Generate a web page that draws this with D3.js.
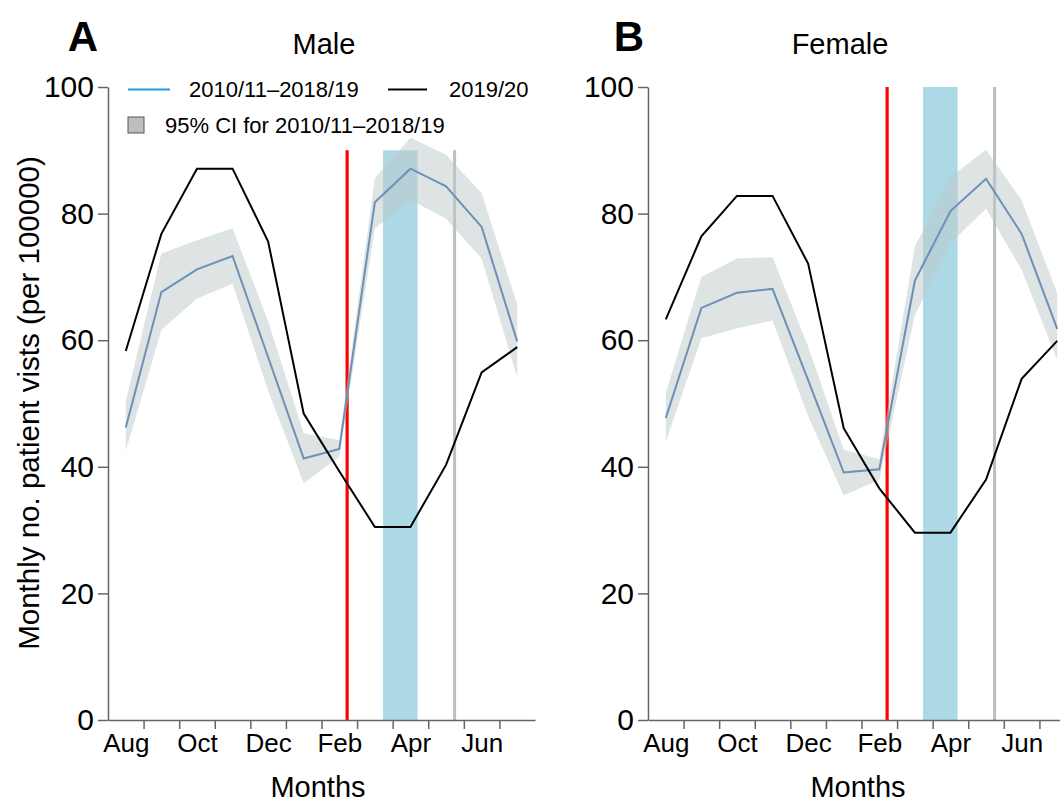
<!DOCTYPE html>
<html>
<head>
<meta charset="utf-8">
<script src="https://cdn.jsdelivr.net/npm/d3@7"></script>
<style>
  body { margin: 0; background: #fff; }
  svg { font-family: "Liberation Sans", Arial, Helvetica, sans-serif; }
</style>
</head>
<body>
<div id="main-container"></div>
<script>
// DATA
const months = ["Aug", "Sep", "Oct", "Nov", "Dec", "Jan", "Feb", "Mar", "Apr", "May", "Jun", "Jul"];
const yTicks = [0, 20, 40, 60, 80, 100];

const maleMean  = [46.2, 67.6, 71.2, 73.3, 57.3, 41.3, 42.8, 81.8, 87.1, 84.3, 77.9, 59.8];
const maleLower = [42.5, 61.6, 66.6, 68.9, 52.0, 37.4, 41.6, 77.7, 82.2, 79.2, 72.9, 54.2];
const maleUpper = [50.4, 73.7, 75.8, 77.7, 63.0, 45.3, 44.2, 85.6, 92.0, 89.3, 83.2, 65.6];
const male2019  = [58.3, 76.8, 87.1, 87.1, 75.6, 48.4, 39.3, 30.5, 30.5, 40.3, 54.9, 58.9];

const femaleMean  = [47.7, 65.1, 67.5, 68.1, 53.7, 39.1, 39.6, 69.4, 80.4, 85.5, 76.8, 61.8];
const femaleLower = [44.0, 60.3, 61.9, 63.1, 48.0, 35.5, 37.9, 64.0, 75.3, 80.8, 71.1, 56.9];
const femaleUpper = [51.7, 70.0, 72.9, 73.1, 59.0, 42.7, 41.2, 74.8, 85.8, 90.1, 82.1, 67.4];
const female2019  = [63.3, 76.4, 82.8, 82.8, 72.1, 46.1, 36.6, 29.6, 29.6, 38.0, 53.9, 59.9];

// event markers, in month units (1 = Aug)
const redLineAt = 7.22;
const shadeSpan = [8.23, 9.2];
const grayLineAt = 10.24;

// CONSTANTS
const width = 427, height = 633;

const svg = d3.select("#main-container")
    .append("svg")
        .attr("width", 1060)
        .attr("height", 804);

function drawPanel(cfg) {
    const g = svg.append("g")
        .attr("transform", `translate(${cfg.left}, 87)`);

    const x = d3.scaleLinear().domain([0.5, 12.5]).range([0, width]);
    const y = d3.scaleLinear().domain([0, 100]).range([height, 0]);

    // shaded period + event lines
    g.append("rect")
        .attr("x", x(shadeSpan[0]))
        .attr("y", y(cfg.markTop))
        .attr("width", x(shadeSpan[1]) - x(shadeSpan[0]))
        .attr("height", y(0) - y(cfg.markTop))
        .style("fill", "#add8e6");

    g.append("line")
        .attr("x1", x(redLineAt)).attr("x2", x(redLineAt))
        .attr("y1", y(0)).attr("y2", y(cfg.markTop))
        .style("stroke", "#ff0000").style("stroke-width", 3.2);

    g.append("line")
        .attr("x1", x(grayLineAt)).attr("x2", x(grayLineAt))
        .attr("y1", y(0)).attr("y2", y(cfg.markTop))
        .style("stroke", "#bebebe").style("stroke-width", 3);

    // CI band
    const area = d3.area()
        .x((d, i) => x(i + 1))
        .y0((d, i) => y(cfg.lower[i]))
        .y1((d, i) => y(cfg.upper[i]));
    g.append("path")
        .datum(cfg.mean)
        .attr("d", area)
        .style("fill", "#bdc7c7")
        .style("opacity", 0.5);

    const line = d3.line().x((d, i) => x(i + 1)).y(d => y(d));

    g.append("path")
        .datum(cfg.mean)
        .attr("d", line)
        .style("fill", "none")
        .style("stroke", "#6b91b6")
        .style("stroke-width", 2);

    g.append("path")
        .datum(cfg.current)
        .attr("d", line)
        .style("fill", "none")
        .style("stroke", "#000")
        .style("stroke-width", 2);

    // axes
    const yAx = g.append("g")
        .call(d3.axisLeft(y).tickValues(yTicks).tickSize(10).tickSizeOuter(0).tickPadding(4));

    const xAx = g.append("g")
        .attr("transform", `translate(0, ${height})`)
        .call(d3.axisBottom(x)
            .tickValues(d3.range(1.5, 12, 1))
            .tickFormat("")
            .tickSize(9)
            .tickSizeOuter(0));

    const xLab = g.append("g")
        .attr("transform", `translate(0, ${height})`)
        .call(d3.axisBottom(x)
            .tickValues(d3.range(1, 13, 2))
            .tickFormat(d => months[d - 1])
            .tickSize(0)
            .tickPadding(14));
    xLab.select(".domain").remove();

    [yAx, xAx, xLab].forEach(a => {
        a.selectAll(".domain, line").style("stroke", "#666").style("stroke-width", 1.5);
        a.selectAll("text").style("fill", "#000")
            .style("font-family", "'Liberation Sans', Arial, sans-serif");
    });
    yAx.selectAll("text").style("font-size", "30px");
    xLab.selectAll("text").style("font-size", "26px");

    // labels
    g.append("text")
        .attr("x", 210).attr("y", 710)
        .attr("text-anchor", "middle")
        .style("font-size", "29px")
        .text("Months");

    g.append("text")
        .attr("x", cfg.titleX).attr("y", -33)
        .attr("text-anchor", "middle")
        .style("font-size", "29px")
        .text(cfg.title);

    g.append("text")
        .attr("x", cfg.letterX).attr("y", -36)
        .attr("text-anchor", "middle")
        .style("font-size", "42px")
        .style("font-weight", "bold")
        .text(cfg.letter);

    return g;
}

drawPanel({
    left: 108, letter: "A", letterX: -25, title: "Male", titleX: 216,
    mean: maleMean, lower: maleLower, upper: maleUpper, current: male2019, markTop: 90
});

drawPanel({
    left: 648, letter: "B", letterX: -19, title: "Female", titleX: 192,
    mean: femaleMean, lower: femaleLower, upper: femaleUpper, current: female2019, markTop: 100
});

// y axis title
svg.append("text")
    .attr("transform", "translate(39, 403) rotate(-90)")
    .attr("text-anchor", "middle")
    .style("font-size", "29.5px")
    .text("Monthly no. patient vists (per 100000)");

// legend (panel A)
const legend = svg.append("g").style("font-size", "22px");
legend.append("line")
    .attr("x1", 128).attr("x2", 170).attr("y1", 89.5).attr("y2", 89.5)
    .style("stroke", "#1b9de0").style("stroke-width", 2);
legend.append("text")
    .attr("x", 189).attr("y", 89.5).attr("dy", "0.35em")
    .text("2010/11\u20132018/19");
legend.append("line")
    .attr("x1", 388).attr("x2", 427).attr("y1", 89.5).attr("y2", 89.5)
    .style("stroke", "#000").style("stroke-width", 2);
legend.append("text")
    .attr("x", 449).attr("y", 89.5).attr("dy", "0.35em")
    .text("2019/20");
legend.append("rect")
    .attr("x", 128).attr("y", 117).attr("width", 16).attr("height", 16)
    .style("fill", "#bebebe").style("stroke", "#555").style("stroke-width", 1);
legend.append("text")
    .attr("x", 165).attr("y", 125).attr("dy", "0.35em")
    .text("95% CI for 2010/11\u20132018/19");
</script>
</body>
</html>
